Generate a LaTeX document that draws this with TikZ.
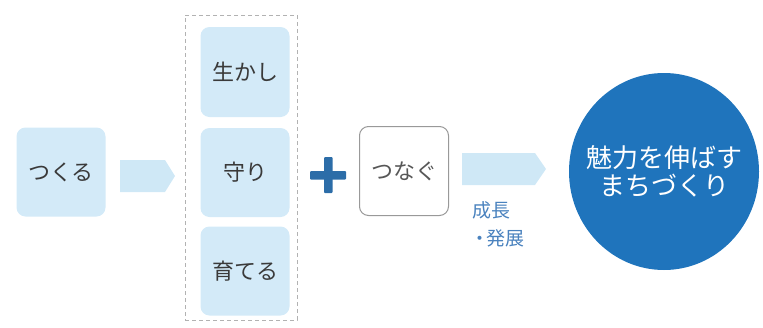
\documentclass[tikz,border=0pt]{standalone}
\usepackage{fontspec}
\setmainfont{Noto Sans CJK JP}
\usetikzlibrary{shapes.geometric}
\definecolor{boxblue}{HTML}{D3EAF8}
\definecolor{arrblue}{HTML}{CFE8F6}
\definecolor{txtdark}{HTML}{3A3A3A}
\definecolor{plusblue}{HTML}{2C6DA8}
\definecolor{circblue}{HTML}{1F74BC}
\definecolor{lblblue}{HTML}{4A82BE}
\tikzset{
  lbox/.style={fill=boxblue, draw=none, rounded corners=9pt, text=txtdark, font=\fontsize{22}{26}\selectfont, minimum width=89pt, minimum height=89pt, inner sep=0pt},
  wbox/.style={fill=white, draw=gray!80, line width=1pt, rounded corners=9pt, text=txtdark!85, font=\fontsize{22}{26}\selectfont, minimum width=89pt, minimum height=89pt, inner sep=0pt},
  arrowfill/.style={fill=arrblue, draw=none},
  lbl/.style={text=lblblue, font=\fontsize{19}{22}\selectfont, inner sep=0pt, anchor=west}
}
\begin{document}
\begin{tikzpicture}[x=1pt,y=-1pt]
\useasboundingbox (0,0) rectangle (763,327);
% left box
\node[lbox] (tsukuru) at (61,172) {つくる};
% arrow 1
\fill[arrowfill] (120,160) -- (165,160) -- (175,176) -- (165,192) -- (120,192) -- cycle;
% dashed group
\node[draw=gray!60, line width=1pt, dash pattern=on 4pt off 3pt, minimum width=112pt, minimum height=305pt, inner sep=0pt] (grp) at (241,167.5) {};
\node[lbox, minimum height=90pt] (ikashi) at (245,72) {生かし};
\node[lbox] (mamori) at (245,172.5) {守り};
\node[lbox] (sodateru) at (245,271) {育てる};
% plus
\node[inner sep=0pt, minimum size=37pt] (plus) at (328,175) {};
\fill[plusblue, rounded corners=1pt] (310,171) rectangle (346,179.5);
\fill[plusblue, rounded corners=1pt] (324,157) rectangle (332.5,193);
% tsunagu
\node[wbox] (tsunagu) at (404,171) {つなぐ};
% arrow 2
\fill[arrowfill] (462,153) -- (535,153) -- (546,169) -- (535,185) -- (462,185) -- cycle;
\node[lbl] (seicho) at (472,210) {成長};
\node[lbl] (hatten) at (474,238) {\makebox[12pt][c]{・}発展};
% circle
\node[ellipse, fill=circblue, minimum width=190pt, minimum height=197pt, inner sep=0pt] (goal) at (664,171.5) {};
\node[text=white, font=\fontsize{26}{30}\selectfont, align=center, inner sep=0pt] (goaltext) at (goal.center) {魅力を伸ばす\\[-2pt]まちづくり};
\end{tikzpicture}
\end{document}
